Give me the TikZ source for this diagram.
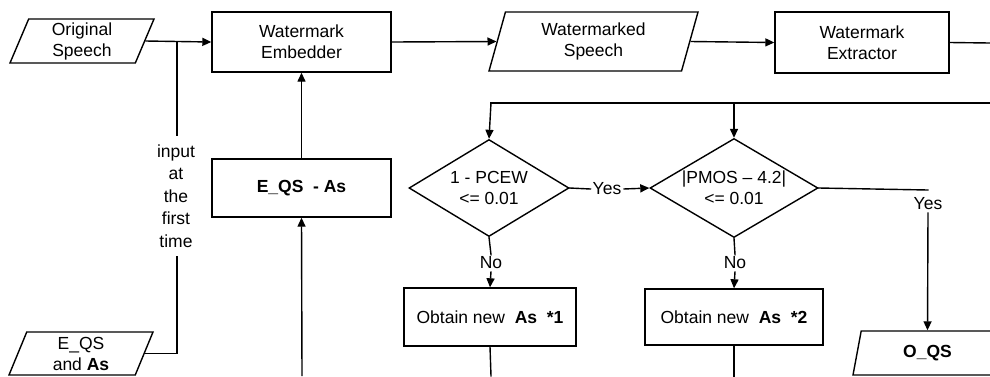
\documentclass[tikz,border=0pt]{standalone}
\usepackage{fontspec}
\setmainfont{Liberation Sans}
\usetikzlibrary{shapes.geometric,arrows.meta}
\begin{document}
\begin{tikzpicture}[x=1pt,y=-1pt,
  every node/.style={font=\fontsize{17.5}{21}\selectfont, inner sep=0pt, align=center},
  line/.style={line width=1.4pt, line cap=rect},
  arr/.style={line width=1.4pt, -{Triangle[length=9pt,width=8pt]}},
  boxn/.style={draw, line width=1.4pt, rectangle},
  para/.style={draw, line width=1.4pt, trapezium, trapezium stretches body=true,
    trapezium left angle=#1, trapezium right angle=180-#1},
  dia/.style={draw, line width=1.4pt, diamond},
  lbl/.style={inner sep=2pt}]
\useasboundingbox (0,0) rectangle (990,376);
\clip (0,0) rectangle (990,376);
\fill[white] (0,0) rectangle (990,376);

% nodes
\node[para=63.4, minimum width=144pt, minimum height=44pt] (os) at (82,41) {Original\\Speech};
\node[boxn, minimum width=179pt, minimum height=60pt] (emb) at (301.5,42) {Watermark\\Embedder};
\node[para=66.2, minimum width=209pt, minimum height=59pt] (wms) at (593.5,41.5) {Watermarked\\Speech};
\node[boxn, minimum width=174pt, minimum height=61pt] (ext) at (862,42.5) {Watermark\\Extractor};
\node[boxn, minimum width=179pt, minimum height=58pt] (eqa) at (301.5,188) {\textbf{E\_QS\ \ - As}};
\node[dia, minimum width=160pt, minimum height=97pt,
  label={[align=center]center:1 - PCEW\\{<}= 0.01}] (d1) at (489,188) {};
\node[dia, minimum width=168pt, minimum height=99pt,
  label={[align=center]center:|PMOS -- 4.2|\\{<}= 0.01}] (d2) at (734,188) {};
\node[boxn, minimum width=172pt, minimum height=58pt] (ob1) at (490,317) {Obtain new\ \ \textbf{As\ \ *1}};
\node[boxn, minimum width=178pt, minimum height=56pt] (ob2) at (734,317) {Obtain new\ \ \textbf{As\ \ *2}};
\node[para=62, minimum width=144pt, minimum height=43pt] (eqs) at (81,353.5) {E\_QS\\and \textbf{As}};
\node[para=62.4, minimum width=149pt, minimum height=44pt] (oqs) at (927.5,353) {\textbf{O\_QS}};
\node[font=\fontsize{17.5}{22.5}\selectfont] (inp) at (176,196) {input\\at\\the\\first\\time};
\node[lbl] (yes1) at (607,189) {Yes};
\node[lbl] (yes2) at (928,204) {Yes};
\node[lbl] (no1) at (491,263) {No};
\node[lbl] (no2) at (735,263) {No};

% coordinates
\coordinate (br) at (177,43);
\coordinate (inpT) at (177,135);
\coordinate (inpB) at (177,257);
\coordinate (extR) at (990,43);
\coordinate (busL) at (491,103);
\coordinate (busM) at (734,103);
\coordinate (busR) at (990,103);
\coordinate (yesR) at (928,190);
\coordinate (ob1B) at (491,376);
\coordinate (ob2B) at (734,376);
\coordinate (eqaB) at (302,376);

% connectors
\draw[arr] (os.east) -- (emb.west);
\draw[line] (br) -- (inpT);
\draw[line] (eqs.east) -| (inpB);
\draw[arr] (emb.east) -- (wms.west);
\draw[arr] (wms.east) -- (ext.west);
\draw[line] (ext.east) -- (extR);
\draw[line] (busL) -- (busR);
\draw[arr] (busL) -- (d1.north);
\draw[arr] (busM) -- (d2.north);
\draw[line] (d1.east) -- (yes1.west);
\draw[arr] (yes1.east) -- (d2.west);
\draw[line] (d2.east) -- (yesR);
\draw[arr] (yes2.south) -- (oqs.north);
\draw[line] (d1.south) -- (no1.north);
\draw[arr] (no1.south) -- (ob1.north);
\draw[line] (d2.south) -- (no2.north);
\draw[arr] (no2.south) -- (ob2.north);
\draw[line] (ob1.south) -- (ob1B);
\draw[line] (ob2.south) -- (ob2B);
\draw[arr] (eqaB) -- (eqa.south);
\draw[arr] (eqa.north) -- (emb.south);
\end{tikzpicture}
\end{document}
